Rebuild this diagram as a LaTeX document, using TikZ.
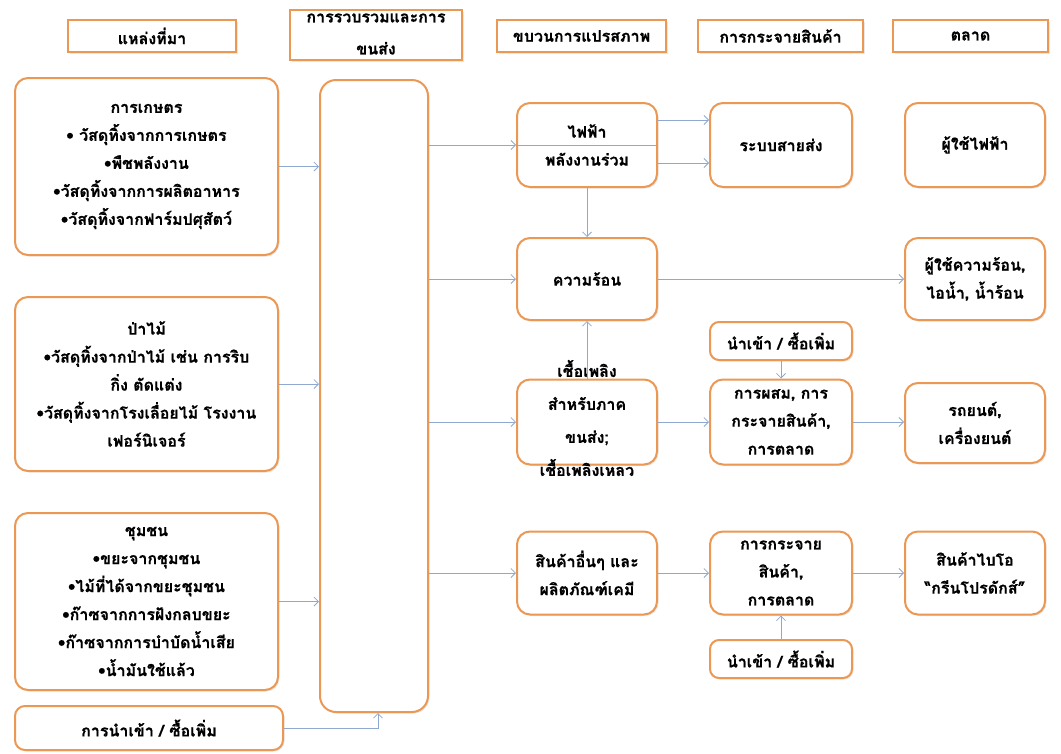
\documentclass[tikz,border=0pt]{standalone}
\usepackage{fontspec}
\newfontfamily\thaifont[Script=Thai, BoldFeatures={FakeBold=0.6}]{Loma}
\usetikzlibrary{arrows.meta,shadows}
\definecolor{bord}{RGB}{234,152,84}
\definecolor{conn}{RGB}{143,168,210}
\tikzset{
  rbox/.style={draw=bord, line width=2pt, rounded corners=13pt, fill=white, inner sep=0pt,
    drop shadow={opacity=0.18, shadow xshift=1.5pt, shadow yshift=-1.5pt}},
  hbox/.style={draw=bord, line width=1.8pt, fill=white, inner sep=0pt,
    drop shadow={opacity=0.18, shadow xshift=1.5pt, shadow yshift=-1.5pt}},
  txt/.style={font=\thaifont\bfseries\fontsize{16}{28}\selectfont, align=center, text=black},
  arr/.style={draw=conn, line width=0.8pt, -{Straight Barb[length=4.5pt,width=9pt]}},
  connline/.style={draw=conn, line width=0.8pt},
}
\begin{document}
\begin{tikzpicture}[x=1pt,y=-1pt]
\useasboundingbox (0,0) rectangle (1061,753);
% headers
\node[hbox, txt, minimum width=168pt, minimum height=32pt] (h1) at (152,36) {แหล่งที่มา};
\node[hbox, minimum width=172pt, minimum height=50pt] (h2) at (376,35) {};
\node[txt, font=\thaifont\bfseries\fontsize{16}{32}\selectfont] (h2t) at (376,34) {การรวบรวมและการ\\ขนส่ง};
\node[hbox, txt, minimum width=169pt, minimum height=32pt] (h3) at (581.5,36) {ขบวนการแปรสภาพ};
\node[hbox, txt, minimum width=165pt, minimum height=32pt] (h4) at (780.5,36) {การกระจายสินค้า};
\node[hbox, txt, minimum width=155pt, minimum height=32pt] (h5) at (970.5,36) {ตลาด};
% sources
\node[rbox, txt, minimum width=263pt, minimum height=177pt] (A) at (146.5,166.5)
  {การเกษตร\\• วัสดุทิ้งจากการเกษตร\\•พืชพลังงาน\\•วัสดุทิ้งจากการผลิตอาหาร\\•วัสดุทิ้งจากฟาร์มปศุสัตว์};
\node[rbox, txt, minimum width=263pt, minimum height=174pt] (B) at (146.5,384)
  {ป่าไม้\\•วัสดุทิ้งจากป่าไม้ เช่น การริบ\\กิ่ง ตัดแต่ง\\•วัสดุทิ้งจากโรงเลื่อยไม้ โรงงาน\\เฟอร์นิเจอร์};
\node[rbox, txt, minimum width=263pt, minimum height=177pt] (C) at (146.5,601.5)
  {ชุมชน\\•ขยะจากชุมชน\\•ไม้ที่ได้จากขยะชุมชน\\•ก๊าซจากการฝังกลบขยะ\\•ก๊าซจากการบำบัดน้ำเสีย\\•น้ำมันใช้แล้ว};
\node[rbox, txt, rounded corners=10pt, minimum width=268pt, minimum height=44pt] (D) at (149,728)
  {การนำเข้า / ซื้อเพิ่ม};
% collection
\node[rbox, rounded corners=16pt, minimum width=108pt, minimum height=632pt] (T) at (374,396) {};
% conversion
\node[rbox, minimum width=140pt, minimum height=84pt] (E) at (587,145) {};
\node[rbox, txt, minimum width=140pt, minimum height=82pt] (H) at (587,279) {ความร้อน};
\node[rbox, minimum width=140pt, minimum height=85pt] (F) at (587,422) {};
\node[rbox, txt, minimum width=140pt, minimum height=83pt] (O) at (587,573) {สินค้าอื่นๆ และ\\ผลิตภัณฑ์เคมี};
% distribution
\node[rbox, txt, minimum width=142pt, minimum height=84pt] (G) at (781,145) {ระบบสายส่ง};
\node[rbox, txt, rounded corners=9pt, minimum width=142pt, minimum height=38pt] (I1) at (781,341) {นำเข้า / ซื้อเพิ่ม};
\node[rbox, txt, minimum width=142pt, minimum height=85pt] (M) at (781,422) {การผสม, การ\\กระจายสินค้า,\\การตลาด};
\node[rbox, txt, minimum width=142pt, minimum height=83pt] (Dist) at (781,573) {การกระจาย\\สินค้า,\\การตลาด};
\node[rbox, txt, rounded corners=9pt, minimum width=142pt, minimum height=38pt] (I2) at (781,659) {นำเข้า / ซื้อเพิ่ม};
% market
\node[rbox, txt, minimum width=140pt, minimum height=84pt] (U1) at (975,145) {ผู้ใช้ไฟฟ้า};
\node[rbox, txt, minimum width=140pt, minimum height=82pt] (HU) at (975,279) {ผู้ใช้ความร้อน,\\ไอน้ำ, น้ำร้อน};
\node[rbox, txt, minimum width=140pt, minimum height=80pt] (Car) at (975,423) {รถยนต์,\\เครื่องยนต์};
\node[rbox, txt, minimum width=140pt, minimum height=83pt] (Bio) at (975,573) {สินค้าไบโอ\\“กรีนโปรดักส์”};
% connectors
\draw[arr] (A.east) -- (A.east -| T.west);
\draw[arr] (B.east) -- (B.east -| T.west);
\draw[arr] (C.east) -- (C.east -| T.west);
\draw[arr] (D.east) -| ([xshift=4pt]T.south);
\draw[arr] (T.east |- E.west) -- (E.west);
\draw[connline] (E.west) -- (E.east);
\node[txt] (Et) at (587,145) {ไฟฟ้า\\พลังงานร่วม};
\node[txt, font=\thaifont\bfseries\fontsize{16}{33}\selectfont] (Ft) at (587,418) {เชื้อเพลิง\\สำหรับภาค\\ขนส่ง;\\เชื้อเพลิงเหลว};
\draw[arr] (T.east |- H.west) -- (H.west);
\draw[arr] (T.east |- F.west) -- (F.west);
\draw[arr] (T.east |- O.west) -- (O.west);
\draw[arr] ([yshift=25pt]E.east) -- ([yshift=25pt]E.east -| G.west);
\draw[arr] ([yshift=-18pt]E.east) -- ([yshift=-18pt]E.east -| G.west);
\draw[arr] (E.south) -- (H.north);
\draw[arr] (F.north) -- (H.south);
\draw[arr] (H.east) -- (HU.west);
\draw[arr] (F.east) -- (M.west);
\draw[arr] (I1.south) -- (M.north);
\draw[arr] (M.east) -- (M.east -| Car.west);
\draw[arr] (O.east) -- (Dist.west);
\draw[arr] (Dist.east) -- (Bio.west);
\draw[arr] (I2.north) -- (Dist.south);
\end{tikzpicture}
\end{document}
